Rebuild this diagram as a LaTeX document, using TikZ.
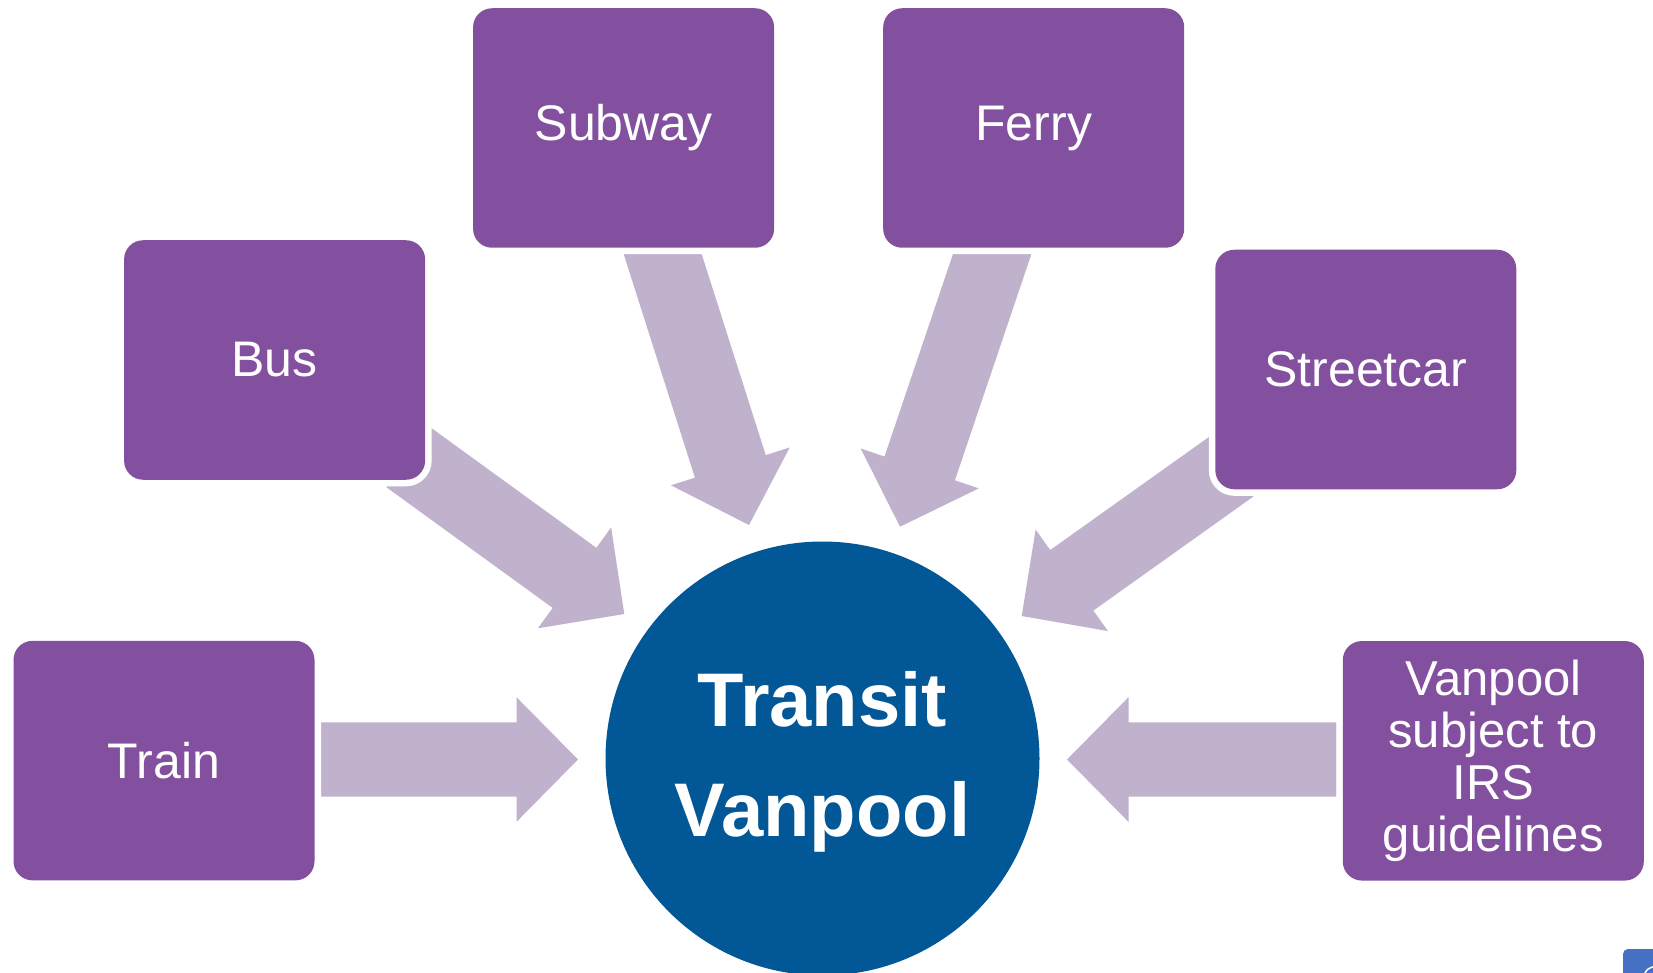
\documentclass[tikz,border=0pt]{standalone}
\usepackage{fontspec}
\setmainfont{Liberation Sans}
\usetikzlibrary{calc}
\definecolor{boxpurple}{RGB}{130,80,158}
\definecolor{arrowlilac}{RGB}{192,178,204}
\definecolor{hubblue}{RGB}{2,87,151}
\definecolor{iconblue}{RGB}{70,112,196}
\newcommand\blockarrow[2]{%
  \coordinate (hb) at ($(#2)!61.5pt!(#1)$);
  \fill[arrowlilac] ($(#1)!37.15pt!90:(#2)$) -- ($(hb)!37.15pt!90:(#2)$)
    -- ($(hb)!62.3pt!90:(#2)$) -- (#2) -- ($(hb)!62.3pt!-90:(#2)$)
    -- ($(hb)!37.15pt!-90:(#2)$) -- ($(#1)!37.15pt!-90:(#2)$) -- cycle;}
\begin{document}
\begin{tikzpicture}[x=1pt,y=-1pt,
  box/.style={rectangle, rounded corners=19pt, fill=boxpurple,
    minimum width=301pt, minimum height=239.5pt, inner sep=0pt,
    text=white, align=center, font=\fontsize{50}{51}\selectfont,
    preaction={draw=white, line width=13pt}},
  hub/.style={circle, fill=hubblue, minimum size=434pt, inner sep=0pt},
  hubtext/.style={text=white, align=center,
    font=\bfseries\fontsize{76}{110.6}\selectfont}]
\useasboundingbox (0,0) rectangle (1653,973);
\clip (0,0) rectangle (1653,973);
\fill[white] (0,0) rectangle (1653,973);
% arrow end points
\coordinate (subS) at (655,230);    \coordinate (subT) at (749,525);
\coordinate (ferS) at (1000.3,230); \coordinate (ferT) at (900,526.7);
\coordinate (busS) at (408.3,457.2); \coordinate (busT) at (624.3,614);
\coordinate (strS) at (1231.8,466.3); \coordinate (strT) at (1021.7,616);
\coordinate (trnS) at (320.7,759.5); \coordinate (trnT) at (578,759.5);
\coordinate (vanS) at (1336.7,759.5); \coordinate (vanT) at (1067,759.5);
\blockarrow{subS}{subT}
\blockarrow{ferS}{ferT}
\blockarrow{busS}{busT}
\blockarrow{strS}{strT}
\blockarrow{trnS}{trnT}
\blockarrow{vanS}{vanT}
% boxes
\node[box] (subway) at (623.6,128) {Subway};
\node[box] (ferry) at (1033.7,128) {Ferry};
\node[box] (bus) at (274.6,360) {Bus};
\node[box] (streetcar) at (1365.8,369.5) {Streetcar};
\node[box] (train) at (164,760.6) {Train};
\node[box, font=\fontsize{49}{51.8}\selectfont] (vanpool) at (1493.3,760.8)
  {Vanpool\\subject to\\IRS\\guidelines};
% hub
\node[hub] (tv) at (822.5,758.5) {};
\node[hubtext] (tvtext) at ([yshift=-3.5pt]tv.center) {Transit\\Vanpool};
% corner icon
\fill[iconblue, rounded corners=5pt] (1623,949) rectangle (1663,985);
\draw[white, line width=1.5pt] (1644,975) .. controls (1647,969) .. (1655,966);
\end{tikzpicture}
\end{document}
